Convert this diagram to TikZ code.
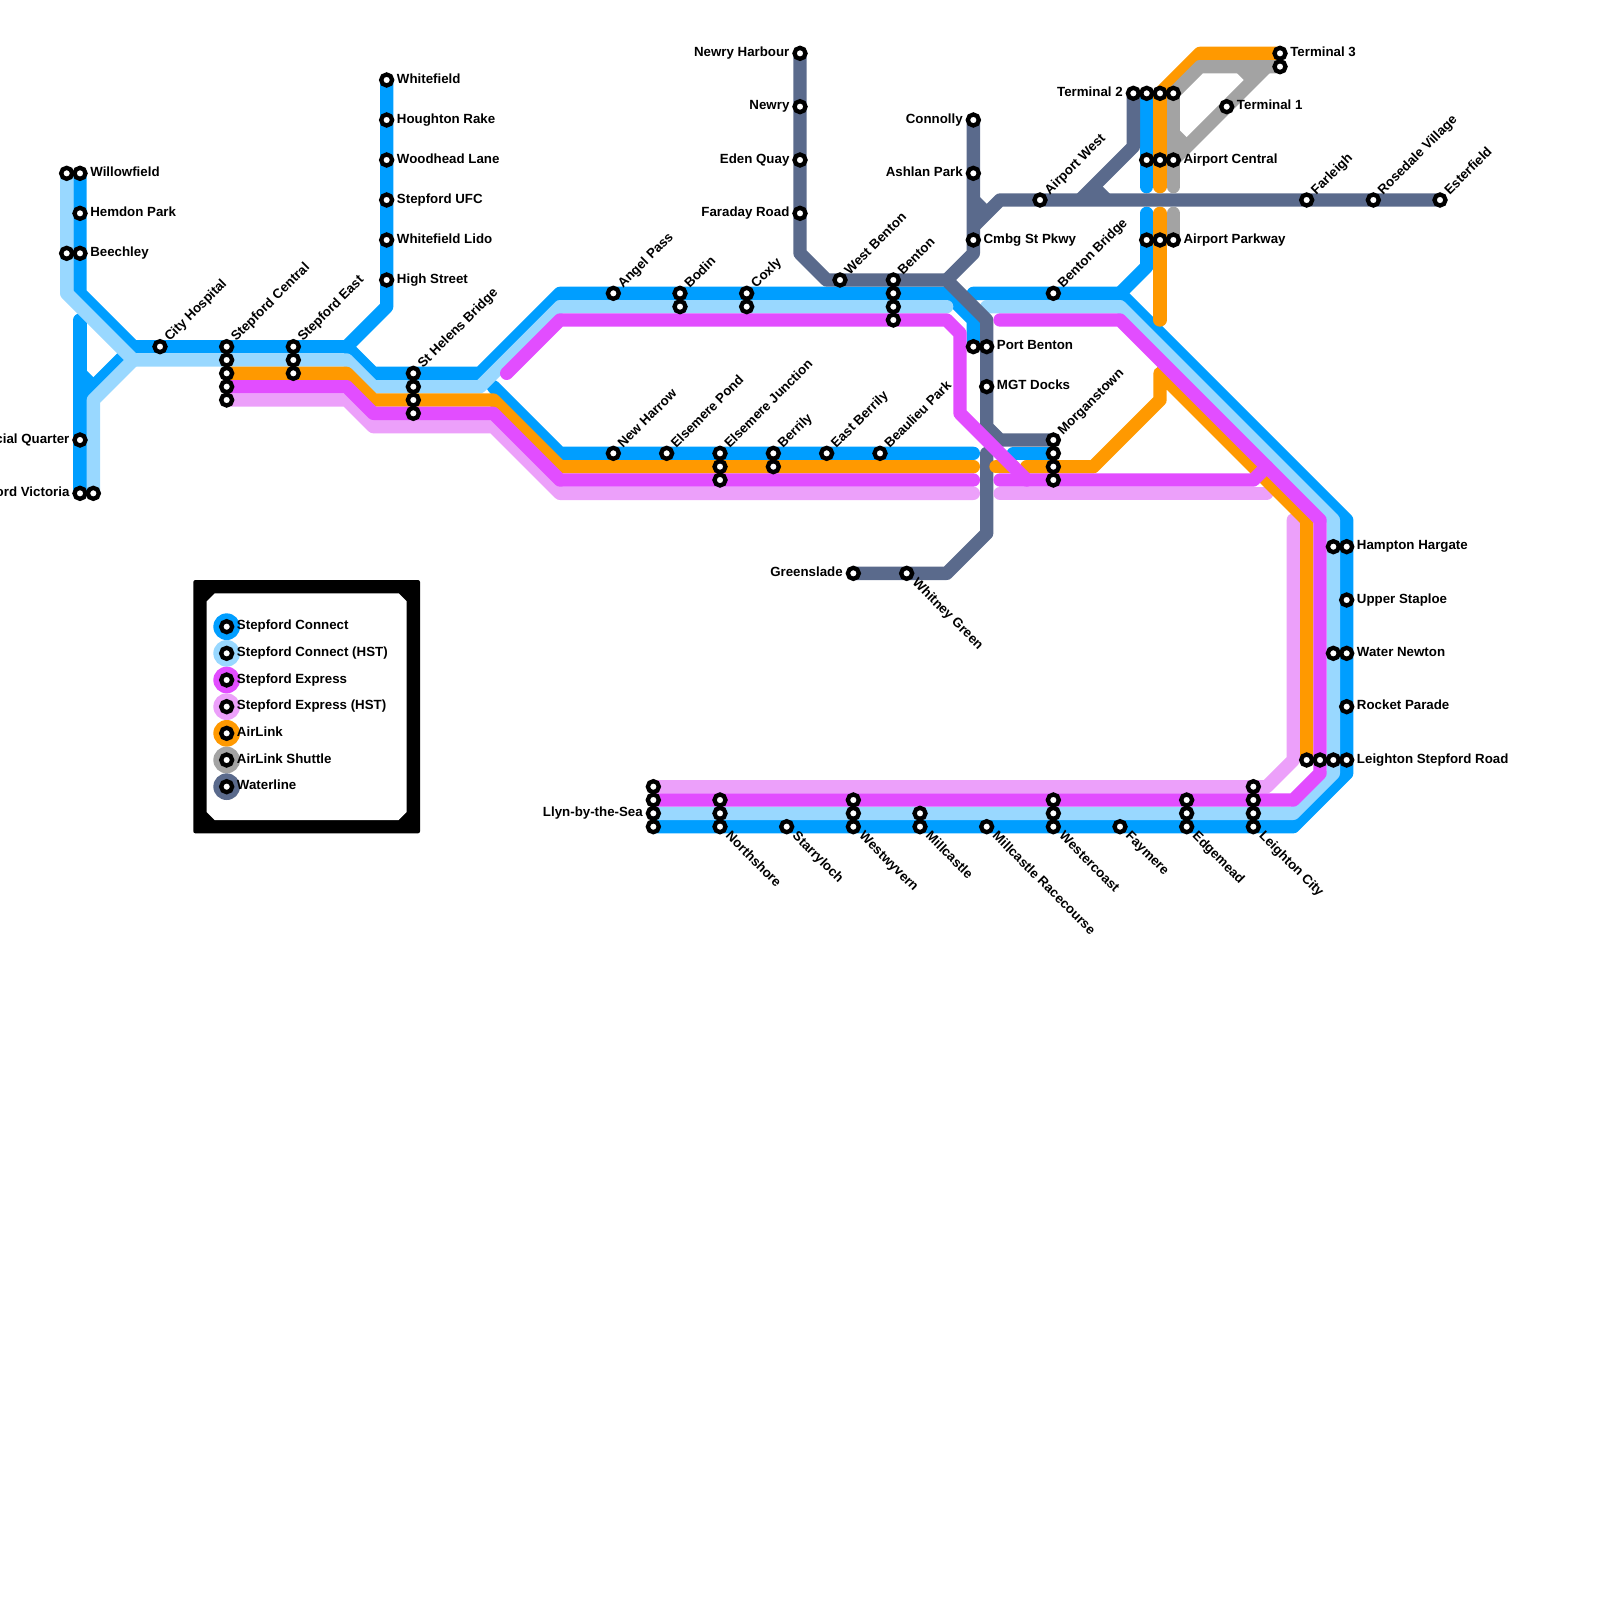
\documentclass[tikz,border=0pt]{standalone}
\usepackage{fontspec}
\setmainfont{Liberation Sans}
\pgfdeclarelayer{lines}
\pgfsetlayers{lines,main}
\definecolor{cBlue}{HTML}{009EFF}
\definecolor{cLight}{HTML}{99D8FF}
\definecolor{cMag}{HTML}{E24DFF}
\definecolor{cPale}{HTML}{ECA0FA}
\definecolor{cOrange}{HTML}{FF9900}
\definecolor{cShuttle}{HTML}{A3A3A3}
\definecolor{cWater}{HTML}{5A6A8C}
\tikzset{
  stat/.style={circle,draw=black,fill=white,line width=4.3pt,minimum size=11pt,inner sep=0pt,outer sep=0pt},
  lab/.style={font=\fontsize{13.3}{15}\selectfont\bfseries,inner sep=0pt,outer sep=0pt,text=black},
  route/.style={line width=13.333pt,line join=round},
  rc/.style={line cap=round},
  blueline/.style={route,draw=cBlue},
  lightline/.style={route,draw=cLight},
  magline/.style={route,draw=cMag},
  paleline/.style={route,draw=cPale},
  orangeline/.style={route,draw=cOrange},
  shuttleline/.style={route,draw=cShuttle},
  waterline/.style={route,draw=cWater},
  keydisc/.style={circle,inner sep=0pt,minimum size=26.67pt,outer sep=0pt},
}
\newcommand{\stn}[3]{\node[stat] (#1) at (#2,#3) {};}
\newcommand{\labR}[2]{\node[lab,anchor=base west] (#1-l) at ([shift={(10.3pt,-3pt)}]#1.center) {#2};}
\newcommand{\labL}[2]{\node[lab,anchor=base east] (#1-l) at ([shift={(-10.6pt,-3pt)}]#1.center) {#2};}
\newcommand{\labU}[2]{\node[lab,anchor=base west,rotate=45] (#1-l) at ([shift={(9.8pt,4.7pt)}]#1.center) {#2};}
\newcommand{\labD}[2]{\node[lab,anchor=base west,rotate=-45] (#1-l) at ([shift={(5.2pt,-10.3pt)}]#1.center) {#2};}
\newcommand{\keyrow}[3]{%
  \node[keydisc,fill=#1] (k#1) at (17,#2) {};
  \stn{ks#1}{17}{#2}
  \labR{ks#1}{#3}}
\begin{document}
\begin{tikzpicture}[x=13.3333pt,y=-13.3333pt]
\useasboundingbox (0,0) rectangle (120,120);
% legend frame
\fill[black,rounded corners=2pt] (14.5,43.5) rectangle (31.5,62.5);
\fill[white] (16.1,44.5) -- (29.9,44.5) -- (30.5,45.1) -- (30.5,60.9) -- (29.9,61.5) -- (16.1,61.5) -- (15.5,60.9) -- (15.5,45.1) -- cycle;
% stations
\stn{wfa}{5}{13}\stn{wfb}{6}{13}\stn{hp}{6}{16}\stn{bca}{5}{19}\stn{bcb}{6}{19}
\stn{fq}{6}{33}\stn{sva}{6}{37}\stn{svb}{7}{37}\stn{ch}{12}{26}
\stn{sca}{17}{26}\stn{scb}{17}{27}\stn{scc}{17}{28}\stn{scd}{17}{29}\stn{sce}{17}{30}
\stn{sea}{22}{26}\stn{seb}{22}{27}\stn{sec}{22}{28}
\stn{wa}{29}{6}\stn{wb}{29}{9}\stn{wc}{29}{12}\stn{wd}{29}{15}\stn{we}{29}{18}\stn{wg}{29}{21}
\stn{sha}{31}{28}\stn{shb}{31}{29}\stn{shc}{31}{30}\stn{shd}{31}{31}
\stn{ap}{46}{22}\stn{boa}{51}{22}\stn{bob}{51}{23}\stn{coa}{56}{22}\stn{cob}{56}{23}
\stn{nh}{46}{34}\stn{ep}{50}{34}\stn{eja}{54}{34}\stn{ejb}{54}{35}\stn{ejc}{54}{36}
\stn{bea}{58}{34}\stn{beb}{58}{35}\stn{eb}{62}{34}\stn{bp}{66}{34}
\stn{nyh}{60}{4}\stn{ny}{60}{8}\stn{eq}{60}{12}\stn{fr}{60}{16}
\stn{wbn}{63}{21}\stn{bna}{67}{21}\stn{bnb}{67}{22}\stn{bnc}{67}{23}\stn{bnd}{67}{24}
\stn{cn}{73}{9}\stn{asp}{73}{13}\stn{cmb}{73}{18}
\stn{pba}{73}{26}\stn{pbb}{74}{26}\stn{mgt}{74}{29}
\stn{mga}{79}{33}\stn{mgb}{79}{34}\stn{mgc}{79}{35}\stn{mgd}{79}{36}
\stn{gs}{64}{43}\stn{wg2}{68}{43}
\stn{aw}{78}{15}\stn{bb}{79}{22}
\stn{ta}{85}{7}\stn{tb}{86}{7}\stn{tc}{87}{7}\stn{td}{88}{7}
\stn{aca}{86}{12}\stn{acb}{87}{12}\stn{acc}{88}{12}
\stn{apa}{86}{18}\stn{apb}{87}{18}\stn{apc}{88}{18}
\stn{tta}{96}{4}\stn{ttb}{96}{5}\stn{tone}{92}{8}
\stn{fa}{98}{15}\stn{rv}{103}{15}\stn{es}{108}{15}
\stn{hha}{100}{41}\stn{hhb}{101}{41}\stn{us}{101}{45}\stn{wna}{100}{49}\stn{wnb}{101}{49}\stn{rp}{101}{53}
\stn{lsa}{98}{57}\stn{lsb}{99}{57}\stn{lsc}{100}{57}\stn{lsd}{101}{57}
\stn{lla}{49}{59}\stn{llb}{49}{60}\stn{llc}{49}{61}\stn{lld}{49}{62}
\stn{nsa}{54}{60}\stn{nsb}{54}{61}\stn{nsc}{54}{62}\stn{sl}{59}{62}
\stn{wva}{64}{60}\stn{wvb}{64}{61}\stn{wvc}{64}{62}
\stn{mca}{69}{61}\stn{mcb}{69}{62}\stn{mr}{74}{62}
\stn{wca}{79}{60}\stn{wcb}{79}{61}\stn{wcc}{79}{62}\stn{fy}{84}{62}
\stn{ema}{89}{60}\stn{emb}{89}{61}\stn{emc}{89}{62}
\stn{lca}{94}{59}\stn{lcb}{94}{60}\stn{lcc}{94}{61}\stn{lcd}{94}{62}
% labels
\labR{wfb}{Willowfield}\labR{hp}{Hemdon Park}\labR{bcb}{Beechley}
\labL{fq}{Financial Quarter}\labL{sva}{Stepford Victoria}
\labU{ch}{City Hospital}\labU{sca}{Stepford Central}\labU{sea}{Stepford East}
\labR{wa}{Whitefield}\labR{wb}{Houghton Rake}\labR{wc}{Woodhead Lane}\labR{wd}{Stepford UFC}\labR{we}{Whitefield Lido}\labR{wg}{High Street}
\labU{sha}{St Helens Bridge}\labU{ap}{Angel Pass}\labU{boa}{Bodin}\labU{coa}{Coxly}
\labU{nh}{New Harrow}\labU{ep}{Elsemere Pond}\labU{eja}{Elsemere Junction}\labU{bea}{Berrily}\labU{eb}{East Berrily}\labU{bp}{Beaulieu Park}
\labL{nyh}{Newry Harbour}\labL{ny}{Newry}\labL{eq}{Eden Quay}\labL{fr}{Faraday Road}
\labU{wbn}{West Benton}\labU{bna}{Benton}
\labL{cn}{Connolly}\labL{asp}{Ashlan Park}\labR{cmb}{Cmbg St Pkwy}
\labR{pbb}{Port Benton}\labR{mgt}{MGT Docks}\labU{mga}{Morganstown}
\labL{gs}{Greenslade}\labD{wg2}{Whitney Green}
\labU{aw}{Airport West}\labU{bb}{Benton Bridge}
\labL{ta}{Terminal 2}\labR{acc}{Airport Central}\labR{apc}{Airport Parkway}
\labR{tta}{Terminal 3}\labR{tone}{Terminal 1}
\labU{fa}{Farleigh}\labU{rv}{Rosedale Village}\labU{es}{Esterfield}
\labR{hhb}{Hampton Hargate}\labR{us}{Upper Staploe}\labR{wnb}{Water Newton}\labR{rp}{Rocket Parade}\labR{lsd}{Leighton Stepford Road}
\labL{llc}{Llyn-by-the-Sea}
\labD{nsc}{Northshore}\labD{sl}{Starryloch}\labD{wvc}{Westwyvern}\labD{mcb}{Millcastle}\labD{mr}{Millcastle Racecourse}
\labD{wcc}{Westercoast}\labD{fy}{Faymere}\labD{emc}{Edgemead}\labD{lcd}{Leighton City}
% key
\keyrow{cBlue}{47}{Stepford Connect}
\keyrow{cLight}{49}{Stepford Connect (HST)}
\keyrow{cMag}{51}{Stepford Express}
\keyrow{cPale}{53}{Stepford Express (HST)}
\keyrow{cOrange}{55}{AirLink}
\keyrow{cShuttle}{57}{AirLink Shuttle}
\keyrow{cWater}{59}{Waterline}
\begin{pgfonlayer}{lines}
% Stepford Connect
\draw[blueline] (wfb.center) -- (6,22) -- (10,26) -- (26,26) -- (28,28) -- (36,28) -- (42,22) -- (71,22) -- (73,24) -- (pba.center);
\draw[blueline] (wa.center) -- (29,23) -- (26,26);
\draw[blueline,rc] (sva.center) -- (6,24);
\draw[blueline] (6,30) -- (10,26);
\draw[blueline] (6,28) -- (7,29);
\draw[blueline,rc] (37,29) -- (42,34) -- (73,34);
\draw[blueline,rc] (73,22) -- (84,22) -- (101,39) -- (101,58) -- (97,62) -- (lld.center);
\draw[blueline,rc] (tb.center) -- (86,14);
\draw[blueline,rc] (86,16) -- (86,20) -- (84,22);
\draw[blueline,rc] (76,34) -- (mgb.center);
% Stepford Connect (HST)
\draw[lightline,rc] (wfa.center) -- (5,22) -- (10,27) -- (26,27) -- (28,29) -- (36,29) -- (42,23) -- (71,23);
\draw[lightline] (svb.center) -- (7,30) -- (10,27);
\draw[lightline,rc] (74,23) -- (84,23) -- (100,39) -- (100,58) -- (97,61) -- (llc.center);
% Waterline
\draw[waterline] (nyh.center) -- (60,19) -- (62,21) -- (71,21) -- (74,24) -- (74,32) -- (75,33) -- (mga.center);
\draw[waterline] (cn.center) -- (73,19) -- (71,21);
\draw[waterline] (73,17) -- (75,15) -- (es.center);
\draw[waterline] (73,15) -- (74,16);
\draw[waterline] (ta.center) -- (85,11) -- (81,15);
\draw[waterline] (82,14) -- (83,15);
\draw[waterline,rc] (74,34) -- (74,40) -- (71,43) -- (gs.center);
% Stepford Express (HST)
\draw[paleline,rc] (sce.center) -- (26,30) -- (28,32) -- (37,32) -- (42,37) -- (73,37);
\draw[paleline,rc] (75,37) -- (95,37);
\draw[paleline,rc] (97,39) -- (97,57) -- (95,59) -- (lla.center);
% AirLink
\draw[orangeline,rc] (scc.center) -- (26,28) -- (28,30) -- (37,30) -- (42,35) -- (73,35);
\draw[orangeline,rc] (74.7,35) -- (76,35);
\draw[orangeline,rc] (77,35) -- (82,35) -- (87,30) -- (87,28) -- (98,39) -- (lsa.center);
\draw[orangeline,rc] (tc.center) -- (87,14);
\draw[orangeline,rc] (87,16) -- (87,24);
\draw[orangeline] (tc.center) -- (90,4) -- (tta.center);
% AirLink Shuttle
\draw[shuttleline,rc] (td.center) -- (88,14);
\draw[shuttleline,rc] (88,16) -- (apc.center);
\draw[shuttleline] (td.center) -- (90,5) -- (ttb.center);
\draw[shuttleline] (95,5) -- (88,12);
\draw[shuttleline] (93,5) -- (94,6);
\draw[shuttleline] (88,10) -- (89,11);
% Stepford Express
\draw[magline,rc] (scd.center) -- (26,29) -- (28,31) -- (37,31) -- (42,36) -- (73,36);
\draw[magline,rc] (38,28) -- (42,24) -- (71,24) -- (72,25) -- (72,31) -- (77,36);
\draw[magline,rc] (75,36) -- (94,36) -- (95,35);
\draw[magline,rc] (75,24) -- (84,24) -- (99,39) -- (99,58) -- (97,60) -- (llb.center);
\end{pgfonlayer}
\end{tikzpicture}
\end{document}
